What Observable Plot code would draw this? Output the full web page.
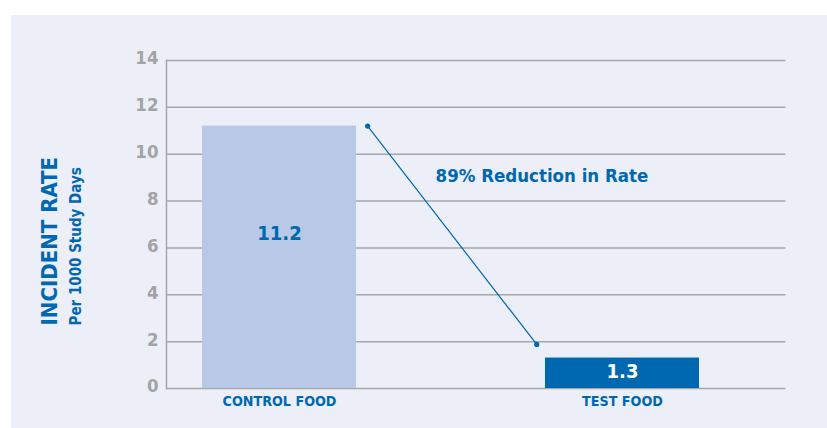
<!DOCTYPE html>
<html>
<head>
<meta charset="utf-8">
<script src="https://cdn.jsdelivr.net/npm/d3@7"></script>
<script src="https://cdn.jsdelivr.net/npm/@observablehq/plot@0.6"></script>
<style>
  html, body { margin: 0; padding: 0; background: #ffffff; }
  #wrap { position: relative; width: 827px; height: 428px; overflow: hidden; }
  #panel { position: absolute; left: 11px; top: 15px; right: 0; bottom: 0; background: #ECEFF8; }
  #chart { position: absolute; left: 0; top: 0; }
  #chart svg { display: block; }
</style>
</head>
<body>
<div id="wrap"><div id="panel"></div><div id="chart"></div></div>
<script>
// ---- data ----
const categories = ["CONTROL FOOD", "TEST FOOD"];
const rates = [11.2, 1.3];
const yTicks = [0, 2, 4, 6, 8, 10, 12, 14];
const yTitle = ["INCIDENT RATE"];
const ySubtitle = ["Per 1000 Study Days"];
const annotation = ["89% Reduction in Rate"];

const blue = "#0067B1";
const lightBar = "#B8C8E7";
const grid = "#A6A6A8";
const tickGray = "#A3A3A5";
const font = "'DejaVu Sans Condensed', 'Liberation Sans Narrow', 'DejaVu Sans', sans-serif";

const bars = categories.map((c, i) => ({i, category: c, rate: rates[i]}));
const half = 0.2245;
const ends = [
  {x: 0 + 0.257, y: rates[0]},
  {x: 1 - 0.25, y: rates[1] + 0.58}
];

const plot = Plot.plot({
  width: 827,
  height: 428,
  marginLeft: 166,
  marginRight: 41.5,
  marginTop: 60,
  marginBottom: 40,
  style: {background: "transparent", fontFamily: font, overflow: "visible"},
  x: {domain: [-0.3294, 1.4767], axis: null},
  y: {domain: [0, 14], axis: null},
  marks: [
    Plot.ruleY(yTicks, {stroke: grid, strokeWidth: 1.5}),
    Plot.frame({anchor: "left", stroke: grid, strokeWidth: 1.5}),
    Plot.rectY(bars, {
      x1: d => d.i - half, x2: d => d.i + half, y1: 0, y2: "rate",
      fill: (d) => d.i === 0 ? lightBar : blue
    }),
    Plot.axisY({
      ticks: yTicks, tickSize: 0, tickPadding: 8, fontSize: 18.5, fontWeight: "bold",
      fill: tickGray, dy: -2, label: null
    }),
    // value labels
    Plot.text(bars.filter(d => d.i === 0), {
      x: "i", y: d => d.rate / 2, text: d => String(d.rate), dy: -24,
      fill: blue, fontSize: 20, fontWeight: "bold"
    }),
    Plot.text(bars.filter(d => d.i === 1), {
      x: "i", y: d => d.rate / 2, text: d => String(d.rate), dy: -2,
      fill: "white", fontSize: 20, fontWeight: "bold"
    }),
    // category labels
    Plot.text(bars, {
      x: "i", frameAnchor: "bottom", text: "category", dy: 17,
      fill: blue, fontSize: 14.2, fontWeight: "bold"
    }),
    // connector
    Plot.line(ends, {x: "x", y: "y", stroke: blue, strokeWidth: 1.2}),
    Plot.dot(ends, {x: "x", y: "y", r: 2.6, fill: blue, stroke: "none"}),
    // annotation
    Plot.text(annotation, {
      x: () => 0.455, y: () => 9.05, text: d => d, textAnchor: "start",
      fill: blue, fontSize: 18.5, fontWeight: "bold"
    }),
    // y titles
    Plot.text(yTitle, {
      frameAnchor: "bottom-left", text: d => d, rotate: -90, textAnchor: "start",
      dx: -110, dy: -63, fill: blue, fontSize: 22, fontWeight: "bold"
    }),
    Plot.text(ySubtitle, {
      frameAnchor: "bottom-left", text: d => d, rotate: -90, textAnchor: "start",
      dx: -86, dy: -63, fill: blue, fontSize: 15, fontWeight: "bold"
    })
  ]
});
document.getElementById("chart").appendChild(plot);
</script>
</body>
</html>
